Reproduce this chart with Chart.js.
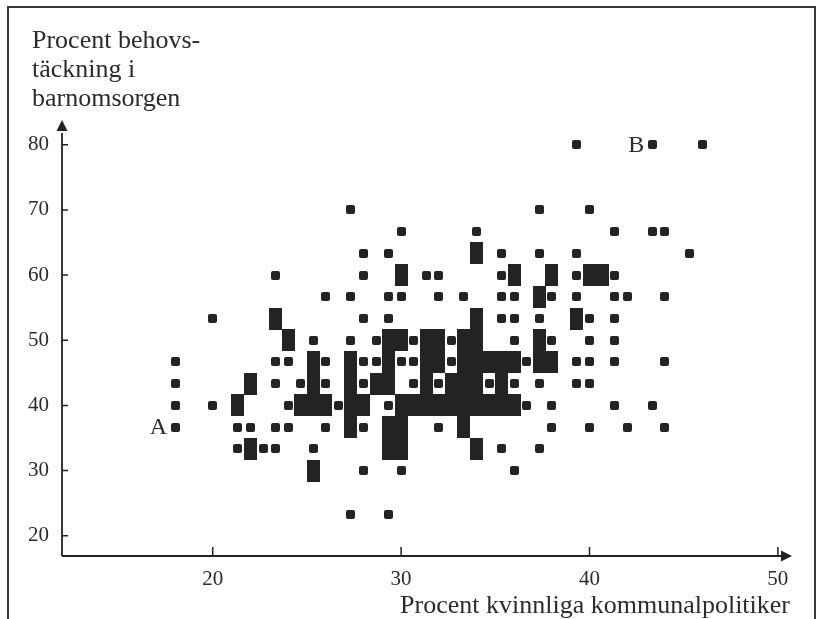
<!DOCTYPE html>
<html>
<head>
<meta charset="utf-8">
<script src="https://cdn.jsdelivr.net/npm/chart.js@4.4.1/dist/chart.umd.min.js"></script>
<style>
  html, body { margin: 0; padding: 0; background: #fff; }
  canvas { display: block; }
</style>
</head>
<body>
<canvas id="chart" width="822" height="619"></canvas>
<script>
// ─── Data (one list per printed row) ─────────────────────────────────────────
const xTicks = [20, 30, 40, 50];
const yTicks = [20, 30, 40, 50, 60, 70, 80];

// y level of each printed row
const rowY = [80, 70, 66.67, 63.33, 60, 56.67, 53.33, 50, 46.67, 43.33, 40, 36.67, 33.33, 30, 23.33];

// one municipality per cell: small square
const singleX = [
  [39.33, 43.33, 46],
  [27.33, 37.33, 40],
  [30, 34, 41.33, 43.33, 44],
  [28, 29.33, 35.33, 37.33, 39.33, 45.33],
  [23.33, 28, 31.33, 32, 35.33, 39.33, 41.33],
  [26, 27.33, 29.33, 30, 32, 33.33, 35.33, 36, 38, 39.33, 41.33, 42, 44],
  [20, 28, 29.33, 35.33, 36, 37.33, 40, 41.33],
  [25.33, 27.33, 28.67, 30.67, 32.67, 36, 38, 40, 41.33],
  [18, 23.33, 24, 26, 28, 28.67, 30, 30.67, 32.67, 36.67, 39.33, 40, 41.33, 44],
  [18, 23.33, 24.67, 26, 28, 30.67, 32, 34.67, 36, 37.33, 39.33, 40],
  [18, 20, 24, 26.67, 29.33, 36.67, 38, 41.33, 43.33],
  [18, 21.33, 22, 23.33, 24, 26, 28, 32, 38, 40, 42, 44],
  [21.33, 22.67, 23.33, 25.33, 35.33, 37.33],
  [28, 30, 36],
  [27.33, 29.33],
];

// several municipalities per cell: filled cell
const blockX = [
  [],
  [],
  [],
  [34],
  [30, 36, 38, 40, 40.67],
  [37.33],
  [23.33, 34, 39.33],
  [24, 29.33, 30, 31.33, 32, 33.33, 34, 37.33],
  [25.33, 27.33, 29.33, 31.33, 32, 33.33, 34, 34.67, 35.33, 36, 37.33, 38],
  [22, 25.33, 27.33, 28.67, 29.33, 31.33, 32.67, 33.33, 34, 35.33],
  [21.33, 24.67, 25.33, 26, 27.33, 28, 30, 30.67, 31.33, 32, 32.67, 33.33, 34, 34.67, 35.33, 36],
  [27.33, 29.33, 30, 33.33],
  [22, 29.33, 30, 34],
  [25.33],
  [],
];

// letters printed beside two municipalities
const markLabels = ['A', 'B'];
const markX = [18, 43.33];
const markY = [36.67, 80];

const yTitle = ['Procent behovs-', 'täckning i', 'barnomsorgen'];
const xTitle = 'Procent kvinnliga kommunalpolitiker';

// ─── Helpers ─────────────────────────────────────────────────────────────────
const INK = '#232323';
const SERIF = '"Liberation Serif", "Times New Roman", serif';

function makeMarker(w, h, r) {
  const c = document.createElement('canvas');
  c.width = w; c.height = h;
  const g = c.getContext('2d');
  g.fillStyle = INK;
  g.beginPath();
  if (r > 0 && g.roundRect) g.roundRect(0, 0, w, h, r); else g.rect(0, 0, w, h);
  g.fill();
  return c;
}

function toPoints(lists) {
  return lists.flatMap((xs, i) => xs.map(x => ({ x, y: rowY[i] })));
}

// axes with arrows, inward ticks, frame and loose texts
const paperPlugin = {
  id: 'paper',
  beforeDraw(chart) {
    const ctx = chart.ctx;
    ctx.save();
    ctx.fillStyle = '#fff';
    ctx.fillRect(0, 0, chart.width, chart.height);
    ctx.restore();
  },
  beforeDatasetsDraw(chart) {
    // hard edges so neighbouring filled cells join into solid areas
    chart.ctx.imageSmoothingEnabled = false;
  },
  afterDatasetsDraw(chart) {
    chart.ctx.imageSmoothingEnabled = true;
  },
  afterDraw(chart) {
    const { ctx, chartArea: a, scales: { x, y } } = chart;
    ctx.save();

    // frame
    ctx.strokeStyle = '#3a3a3a';
    ctx.lineWidth = 2;
    ctx.beginPath();
    ctx.moveTo(8, chart.height); ctx.lineTo(8, 7); ctx.lineTo(815, 7); ctx.lineTo(815, chart.height);
    ctx.stroke();

    // axis lines
    ctx.strokeStyle = INK;
    ctx.lineWidth = 1.8;
    ctx.beginPath();
    ctx.moveTo(a.left, a.bottom); ctx.lineTo(a.left, a.top + 13);
    ctx.moveTo(a.left, a.bottom); ctx.lineTo(a.right - 8, a.bottom);
    ctx.stroke();

    // arrow heads
    ctx.fillStyle = INK;
    ctx.beginPath();
    ctx.moveTo(a.left, a.top); ctx.lineTo(a.left - 5.5, a.top + 11); ctx.lineTo(a.left + 5.5, a.top + 11);
    ctx.closePath(); ctx.fill();
    ctx.beginPath();
    ctx.moveTo(a.right, a.bottom); ctx.lineTo(a.right - 11, a.bottom - 5.5); ctx.lineTo(a.right - 11, a.bottom + 5.5);
    ctx.closePath(); ctx.fill();

    // ticks pointing into the plot
    ctx.lineWidth = 1.5;
    ctx.beginPath();
    yTicks.forEach(v => { const py = y.getPixelForValue(v); ctx.moveTo(a.left, py); ctx.lineTo(a.left + 6, py); });
    xTicks.forEach(v => { const px = x.getPixelForValue(v); ctx.moveTo(px, a.bottom); ctx.lineTo(px, a.bottom - 9); });
    ctx.stroke();

    // y title, three lines top left
    ctx.fillStyle = '#2b2b2b';
    ctx.textAlign = 'left';
    ctx.textBaseline = 'alphabetic';
    ctx.font = '26px ' + SERIF;
    yTitle.forEach((t, i) => ctx.fillText(t, 32, 48 + i * 29));

    // x title, right aligned under the axis
    ctx.textAlign = 'right';
    ctx.font = '26px ' + SERIF;
    ctx.fillText(xTitle, 790, 613);

    // letters A and B
    ctx.font = '24px ' + SERIF;
    ctx.textBaseline = 'middle';
    markLabels.forEach((t, i) => {
      ctx.fillText(t, x.getPixelForValue(markX[i]) - 8, y.getPixelForValue(markY[i]) + 1);
    });

    ctx.restore();
  }
};

// ─── Chart ───────────────────────────────────────────────────────────────────
const blockStyle = makeMarker(13, 22, 0);
const singleStyle = makeMarker(9, 9, 2);

const tickFont = { family: SERIF, size: 21 };

new Chart(document.getElementById('chart'), {
  type: 'scatter',
  data: {
    datasets: [
      {
        label: 'Flera kommuner',
        data: toPoints(blockX),
        pointStyle: blockStyle,
        pointRadius: 6,
        pointHoverRadius: 6,
      },
      {
        label: 'En kommun',
        data: toPoints(singleX),
        pointStyle: singleStyle,
        pointRadius: 4,
        pointHoverRadius: 4,
      },
    ],
  },
  options: {
    responsive: false,
    animation: false,
    events: [],
    layout: { padding: { top: 120, right: 30, bottom: 0, left: 0 } },
    plugins: { legend: { display: false }, tooltip: { enabled: false } },
    scales: {
      x: {
        type: 'linear',
        min: 12, max: 50.75,
        afterFit: s => { s.height = 63; },
        afterBuildTicks: s => { s.ticks = xTicks.map(v => ({ value: v })); },
        grid: { display: false },
        border: { display: false },
        ticks: { font: tickFont, color: '#2b2b2b', padding: 3, maxRotation: 0 },
      },
      y: {
        type: 'linear',
        min: 16.9, max: 83.8,
        afterFit: s => { s.width = 62; },
        afterBuildTicks: s => { s.ticks = yTicks.map(v => ({ value: v })); },
        grid: { display: false },
        border: { display: false },
        ticks: { font: tickFont, color: '#2b2b2b', padding: 5 },
      },
    },
  },
  plugins: [paperPlugin],
});
</script>
</body>
</html>
